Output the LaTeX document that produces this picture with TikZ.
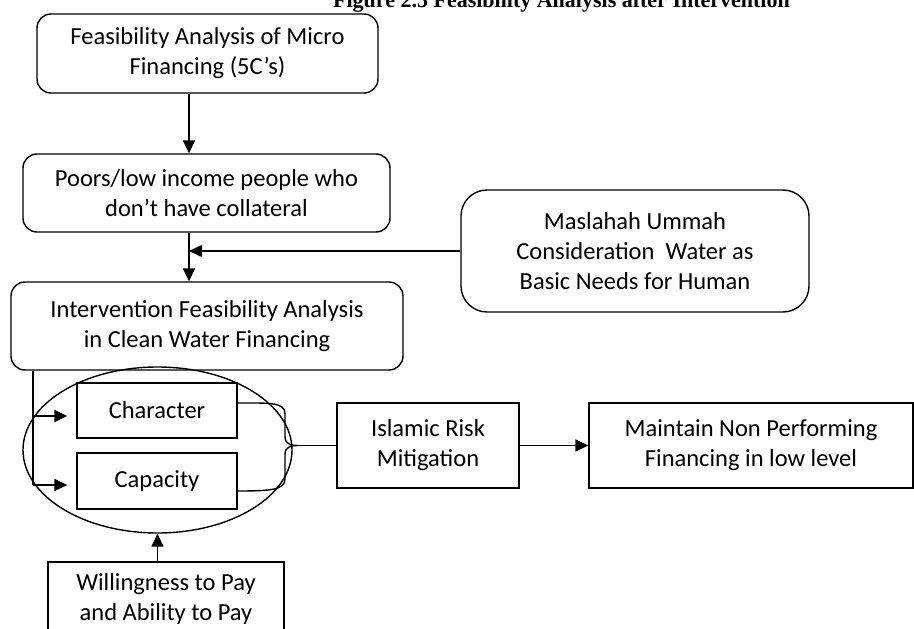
\documentclass[tikz,border=0pt]{standalone}
\usepackage{fontspec}
\setmainfont{Carlito}
\newfontfamily\titlefont{Liberation Serif}
\usetikzlibrary{arrows.meta,shapes.geometric}

\tikzset{
  box/.style={draw, line width=1.4pt, align=center, inner sep=0pt,
    font=\fontsize{24.5}{30}\selectfont},
  rbox/.style={box, rounded corners=14pt},
  link/.style={line width=1.6pt},
  arr/.style={link, -{Triangle[length=13pt,width=12pt]}}
}

\begin{document}
\begin{tikzpicture}[x=1pt,y=-1pt]
\useasboundingbox (0,0) rectangle (914,629);
\clip (0,0) rectangle (914,629);

% heading, cut by the top edge
\node[anchor=base, font=\titlefont\bfseries\fontsize{22}{26}\selectfont, inner sep=0pt]
  (title) at (561.5,7.5) {Figure 2.5 Feasibility Analysis after Intervention};

% main column
\node[rbox, minimum width=341pt, minimum height=79pt] (fa) at (207.5,53.5)
  {Feasibility Analysis of Micro\\Financing (5C’s)};
\node[rbox, minimum width=367pt, minimum height=78pt] (poor) at (206.5,193)
  {Poors/low income people who\\don’t have collateral};
\node[rbox, minimum width=392pt, minimum height=88pt] (interv) at (207,326)
  {Intervention Feasibility Analysis\\in Clean Water Financing};
\node[rbox, rounded corners=26pt, minimum width=348pt, minimum height=122pt] (masl) at (635,251)
  {Maslahah Ummah\\Consideration\ \ Water as\\Basic Needs for Human};

% the two checked criteria inside the ellipse
\node[draw, line width=1.4pt, ellipse, inner sep=0pt, minimum width=269pt, minimum height=166pt]
  (ell) at (157.5,450) {};
\node[box, minimum width=160pt, minimum height=55pt] (char) at (157,410.5) {Character};
\node[box, minimum width=160pt, minimum height=56pt] (cap) at (157,481) {Capacity};

\node[box, minimum width=182pt, minimum height=85pt] (islam) at (428,445.5)
  {Islamic Risk\\Mitigation};
\node[box, minimum width=324pt, minimum height=85pt] (maint) at (751,445.5)
  {Maintain Non Performing\\Financing in low level};
\node[box, minimum width=236pt, minimum height=74pt] (will) at (166,599)
  {Willingness to Pay\\and Ability to Pay};

% vertical flow
\coordinate (vx) at (189,0);
\draw[arr] (vx |- fa.south) -- (vx |- poor.north);
\draw[arr] (vx |- poor.south) -- (vx |- interv.north);
\draw[arr] (masl.west) -- (vx |- masl.west);

% branch from the intervention box to both criteria
\coordinate (bx) at (33,0);
\coordinate (j1) at (33,416);
\coordinate (j2) at (33,485);
\draw[link] (bx |- interv.south) -- (j2);
\draw[arr, shorten >=9pt] (j1) -- (char.west |- j1);
\draw[arr, shorten >=9pt] (j2) -- (cap.west |- j2);

% brace joining both criteria
\coordinate (ba) at ([yshift=7.5pt]char.east);
\coordinate (bb) at ([yshift=-10pt]cap.east);
\coordinate (tip) at (298,445.5);
\draw[link, line width=1.4pt] (ba) .. controls (270,403) and (285,402) .. (285,414)
  -- (285,436) .. controls (285,444) and (290,445.5) .. (tip)
  .. controls (290,445.5) and (285,447) .. (285,455)
  -- (285,479) .. controls (285,490) and (270,491) .. (bb);
\draw[link, line width=1.4pt] (tip) -- (islam.west);

\draw[arr] (islam.east) -- (maint.west);
\draw[arr] (ell.south |- will.north) -- (ell.south);
\end{tikzpicture}
\end{document}
